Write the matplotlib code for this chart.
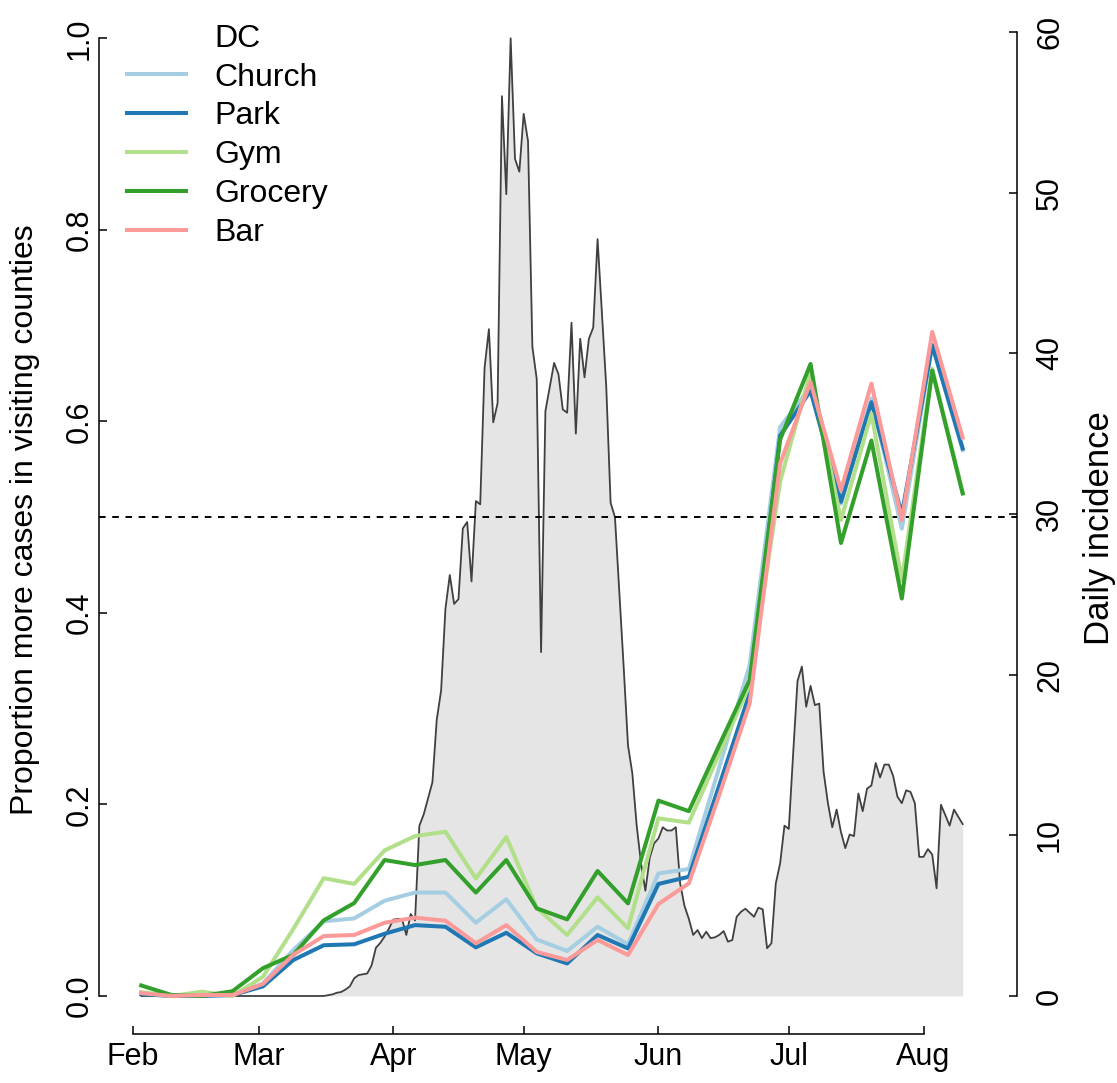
import numpy as np
import matplotlib
matplotlib.use('Agg')
from matplotlib import pyplot as plt
import matplotlib.dates as mdates
from matplotlib.lines import Line2D

plt.rcParams['font.family'] = ['Liberation Sans', 'DejaVu Sans']

# weekly proportion of visitors coming from counties with more cases (Mondays from 2020-02-03)
week_start = '2020-02-03'
church = [0.003, 0.000, 0.001, 0.001, 0.013, 0.048, 0.078, 0.081, 0.0995, 0.108,
          0.108, 0.0765, 0.101, 0.059, 0.047, 0.0723, 0.054, 0.128, 0.1326, 0.239,
          0.3455, 0.594, 0.636, 0.514, 0.624, 0.488, 0.680, 0.570]
park = [0.002, 0.000, 0.000, 0.001, 0.010, 0.0376, 0.053, 0.054, 0.065, 0.074,
        0.0723, 0.0508, 0.066, 0.0445, 0.034, 0.0637, 0.0497, 0.117, 0.1245, 0.220,
        0.316, 0.585, 0.632, 0.516, 0.620, 0.503, 0.6795, 0.5717]
gym = [0.004, 0.000, 0.0045, 0.000, 0.020, 0.070, 0.123, 0.117, 0.152, 0.167,
       0.1715, 0.1228, 0.166, 0.092, 0.0637, 0.103, 0.0707, 0.1855, 0.181, 0.253,
       0.325, 0.537, 0.652, 0.497, 0.608, 0.434, 0.655, 0.526]
grocery = [0.011, 0.001, 0.000, 0.005, 0.029, 0.043, 0.079, 0.097, 0.142, 0.1367,
           0.142, 0.108, 0.142, 0.0915, 0.080, 0.1305, 0.0967, 0.204, 0.193, 0.262,
           0.330, 0.581, 0.660, 0.473, 0.580, 0.415, 0.653, 0.5247]
bar = [0.003, 0.000, 0.001, 0.001, 0.0125, 0.043, 0.0626, 0.0637, 0.0765, 0.0818,
       0.0786, 0.055, 0.074, 0.046, 0.0376, 0.0585, 0.0428, 0.096, 0.1176, 0.210,
       0.3055, 0.556, 0.641, 0.528, 0.6395, 0.497, 0.6934, 0.583]

places = ['Church', 'Park', 'Gym', 'Grocery', 'Bar']
place_colors = ['#A6CEE3', '#1F78B4', '#B2DF8A', '#33A02C', '#FB9A99']

# DC daily incidence, 2020-02-03 .. 2020-08-10
day_start = '2020-02-03'
incidence = ([0.0] * 43 +
             [0.05, 0.1, 0.2, 0.25, 0.4, 0.6, 1.1, 1.3, 1.35, 1.4, 1.9, 3.0, 3.3, 3.7,
              4.2, 4.75, 4.8, 4.8, 3.8, 5.1, 4.7] +
             [10.6, 11.3, 12.3, 13.3, 17.2, 19.0, 24.1, 26.2, 24.4, 24.7, 29.1, 29.5,
              25.8, 30.8, 30.6] +
             [39.1, 41.5, 35.7, 36.9, 56.0, 49.9, 59.6, 52.1, 51.3, 54.9, 53.2, 40.4,
              38.4, 21.4, 36.4, 37.9, 39.4, 38.7, 36.5, 36.3, 41.9, 35.0, 40.9, 38.5,
              40.9, 41.6, 47.1, 42.5, 37.9, 30.7, 29.8] +
             [25.2, 20.5, 15.6, 13.85, 10.6, 8.25, 6.55, 8.6, 9.5, 9.8, 10.5, 10.3,
              10.3, 10.5, 7.0, 5.6, 4.8] +
             [3.8, 4.1, 3.6, 4.0, 3.6, 3.65, 3.8, 4.04, 3.38, 3.48, 4.93, 5.24, 5.43,
              5.18, 4.93, 5.5, 5.39, 2.97, 3.28, 7.0, 8.25, 10.6, 10.4, 15.1] +
             [19.6, 20.5, 18.0, 19.3, 18.1, 18.2, 13.95, 12.0, 10.5, 11.6, 10.2, 9.2,
              10.05, 9.95, 12.6, 11.5, 12.9, 13.1, 14.5, 13.6, 14.4, 14.4, 13.7, 12.4,
              12.0, 12.8, 12.7, 12.0, 8.66, 8.66, 9.14, 8.8, 6.7, 11.9, 11.26, 10.6,
              11.6, 11.15, 10.7])

month_ticks = ['2020-02-01', '2020-03-01', '2020-04-01', '2020-05-01',
               '2020-06-01', '2020-07-01', '2020-08-01']
month_labels = ['Feb', 'Mar', 'Apr', 'May', 'Jun', 'Jul', 'Aug']
prop_ticks = [0.0, 0.2, 0.4, 0.6, 0.8, 1.0]
inc_ticks = [0, 10, 20, 30, 40, 50, 60]

weeks = np.datetime64(week_start) + np.arange(len(church)) * np.timedelta64(7, 'D')
days = np.datetime64(day_start) + np.arange(len(incidence)) * np.timedelta64(1, 'D')
series = [church, park, gym, grocery, bar]

W, H = 1117, 1083
fig = plt.figure(figsize=(W / 100, H / 100), dpi=100)
ax = fig.add_axes([99.3 / W, (H - 1034.3) / H, (1017 - 99.3) / W, 1034.3 / H])
ax2 = ax.twinx()
ax.set_zorder(ax2.get_zorder() + 1)
ax.patch.set_visible(False)

# incidence polygon on the right axis
inc_max = max(incidence)
ax2.fill_between(days, incidence, 0, color='#E5E5E5', lw=0)
ax2.plot(days, incidence, color='#404040', lw=1.3)
ax2.set_ylim(-0.04 * inc_max, 1.04 * inc_max)

ax.axhline(0.5, color='black', lw=1.4, dashes=(3.4, 3.4), zorder=1)
handles = [Line2D([], [], color='none', label='DC')]
for name, vals, col in zip(places, series, place_colors):
    ln, = ax.plot(weeks, vals, color=col, lw=2.9, label=name, zorder=2)
    handles.append(ln)
ax.set_ylim(-0.04, 1.04)

x0 = mdates.date2num(np.datetime64(month_ticks[0]))
ax.set_xlim(x0 - 7.64, x0 + 203.5)

# R style axes
tick_dates = [np.datetime64(m) for m in month_ticks]
ax.set_xticks(tick_dates)
ax.set_xticklabels(month_labels)
ax.set_yticks(prop_ticks)
ax.set_yticklabels(['%.1f' % t for t in prop_ticks], rotation=90, va='center')
ax2.set_yticks(inc_ticks)
ax2.set_yticklabels([str(t) for t in inc_ticks], rotation=90, va='center')

for a in (ax, ax2):
    a.spines['top'].set_visible(False)
    a.tick_params(direction='in', length=5.8, width=1.1, labelsize=22, color='black')
ax.spines['right'].set_visible(False)
ax2.spines['left'].set_visible(False)
ax2.spines['bottom'].set_visible(False)
ax.spines['left'].set_bounds(0, 1)
ax.spines['bottom'].set_bounds(mdates.date2num(tick_dates[0]), mdates.date2num(tick_dates[-1]))
ax2.spines['right'].set_bounds(0, 60)
for sp in ['left', 'bottom']:
    ax.spines[sp].set_linewidth(1.1)
ax2.spines['right'].set_linewidth(1.1)
ax.tick_params(axis='x', pad=5.5)
ax.tick_params(axis='y', pad=3.5)
ax2.tick_params(axis='y', pad=13)

fig.text(25 / W, 1 - 520 / H, 'Proportion more cases in visiting counties',
         rotation=90, ha='center', va='center', fontsize=23)
fig.text(1100 / W, 1 - 528 / H, 'Daily incidence',
         rotation=90, ha='center', va='center', fontsize=25)

ax.legend(handles=handles, loc='upper left', bbox_to_anchor=(0.0302, 0.977),
          frameon=False, fontsize=23, handlelength=1.85, handletextpad=0.9,
          labelspacing=0.276, borderpad=0, borderaxespad=0)

fig.savefig('out.png', dpi=100)
